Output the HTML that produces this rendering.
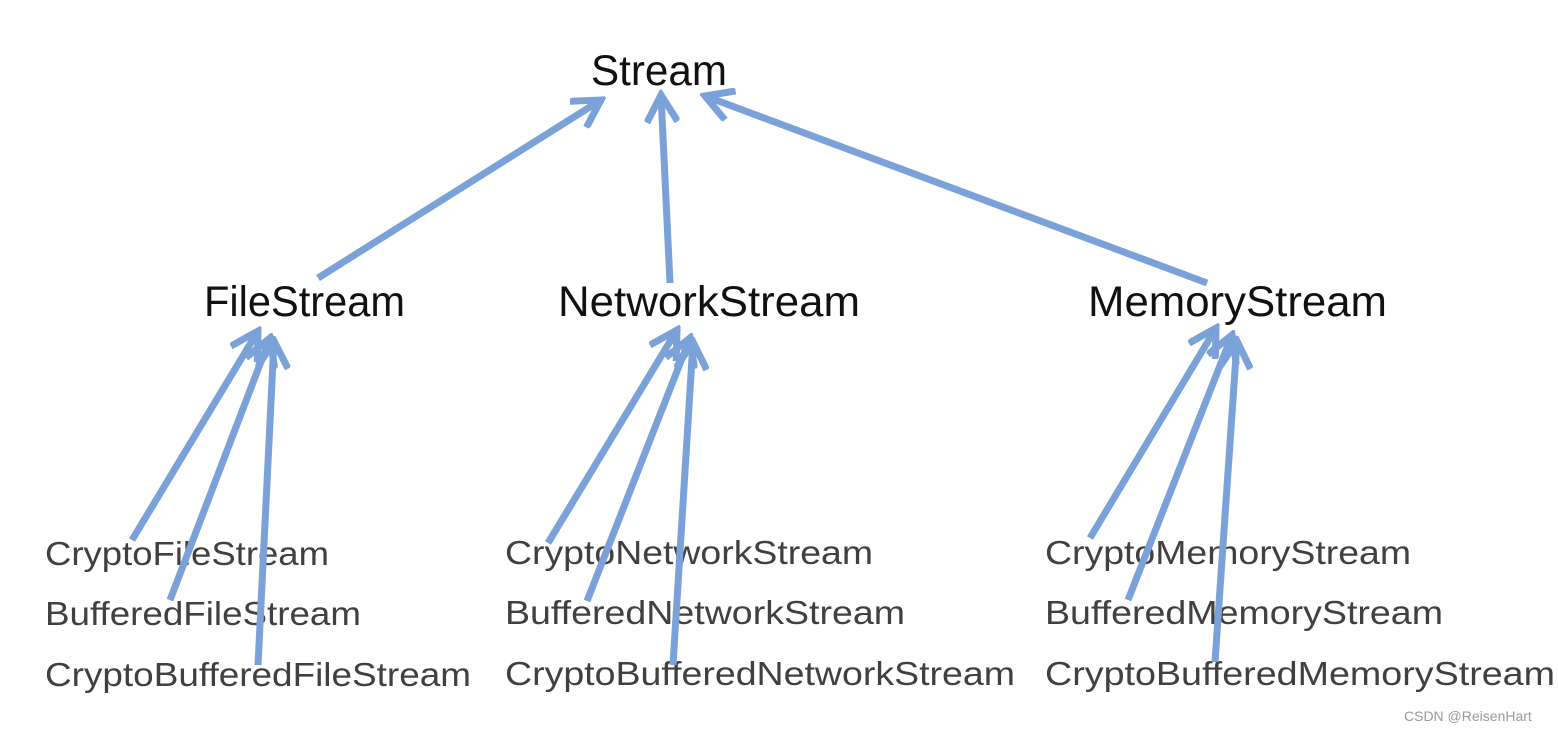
<!DOCTYPE html>
<html><head><meta charset="utf-8"><style>
html,body{margin:0;padding:0;background:#fff;}
svg{display:block}
</style></head><body>
<svg width="1558" height="731" viewBox="0 0 1558 731" xmlns="http://www.w3.org/2000/svg">
<defs>
<marker id="ah" viewBox="0 0 10 10" refX="8.5" refY="5" markerWidth="5" markerHeight="5" orient="auto" markerUnits="strokeWidth">
<path d="M0.8,0.6 L8.5,5 L0.8,9.4" fill="none" stroke="#7ba1d9" stroke-width="2" stroke-linecap="butt" stroke-linejoin="miter"/>
</marker>
</defs>
<g font-family="'Liberation Sans', 'DejaVu Sans', sans-serif">
<text x="591" y="85" font-size="43" fill="#111" textLength="136" lengthAdjust="spacingAndGlyphs">Stream</text>
<text x="204" y="316" font-size="43" fill="#111" textLength="201" lengthAdjust="spacingAndGlyphs">FileStream</text>
<text x="558" y="316" font-size="43" fill="#111" textLength="302" lengthAdjust="spacingAndGlyphs">NetworkStream</text>
<text x="1088" y="316" font-size="43" fill="#111" textLength="299" lengthAdjust="spacingAndGlyphs">MemoryStream</text>
<g font-size="33" fill="#404040">
<text x="45" y="565" textLength="284" lengthAdjust="spacingAndGlyphs">CryptoFileStream</text>
<text x="45" y="625" textLength="316" lengthAdjust="spacingAndGlyphs">BufferedFileStream</text>
<text x="45" y="686" textLength="426" lengthAdjust="spacingAndGlyphs">CryptoBufferedFileStream</text>
<text x="505" y="564" textLength="368" lengthAdjust="spacingAndGlyphs">CryptoNetworkStream</text>
<text x="505" y="624" textLength="400" lengthAdjust="spacingAndGlyphs">BufferedNetworkStream</text>
<text x="505" y="685" textLength="510" lengthAdjust="spacingAndGlyphs">CryptoBufferedNetworkStream</text>
<text x="1045" y="564" textLength="366" lengthAdjust="spacingAndGlyphs">CryptoMemoryStream</text>
<text x="1045" y="624" textLength="398" lengthAdjust="spacingAndGlyphs">BufferedMemoryStream</text>
<text x="1045" y="685" textLength="510" lengthAdjust="spacingAndGlyphs">CryptoBufferedMemoryStream</text>
</g>
<text x="1404" y="721" font-size="14" fill="#999">CSDN @ReisenHart</text>
</g>
<g stroke="#7ba1d9" stroke-width="7" fill="none" stroke-linecap="butt" marker-end="url(#ah)">
<line x1="318" y1="278" x2="601" y2="100"/>
<line x1="670" y1="283" x2="661" y2="95"/>
<line x1="1207" y1="283" x2="705" y2="96"/>
<line x1="132" y1="540" x2="258" y2="331"/>
<line x1="170" y1="600" x2="270" y2="338"/>
<line x1="258" y1="665" x2="274" y2="341"/>
<line x1="548" y1="543" x2="677" y2="330"/>
<line x1="587" y1="601" x2="690" y2="338"/>
<line x1="673" y1="665" x2="693" y2="342"/>
<line x1="1090" y1="538" x2="1216" y2="328"/>
<line x1="1128" y1="600" x2="1232" y2="335"/>
<line x1="1215" y1="662" x2="1237" y2="341"/>
</g>
</svg>
</body></html>
